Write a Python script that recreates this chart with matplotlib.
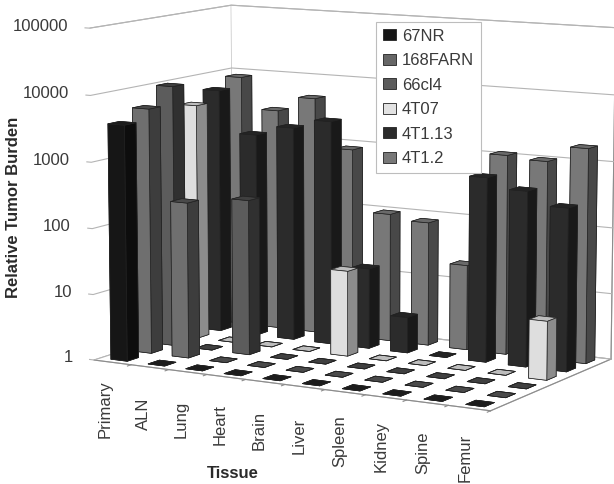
import numpy as np
import matplotlib
matplotlib.use("Agg")
import matplotlib.pyplot as plt
from matplotlib.patches import Patch
from mpl_toolkits.mplot3d import proj3d

plt.rcParams['font.family'] = ['Liberation Sans', 'DejaVu Sans']

tissues = ["Primary", "ALN", "Lung", "Heart", "Brain", "Liver", "Spleen", "Kidney", "Spine", "Femur"]
series_names = ["67NR", "168FARN", "66cl4", "4T07", "4T1.13", "4T1.2"]
v_67NR    = [3700, 1, 1, 1, 1, 1, 1, 1, 1, 1]
v_168FARN = [5400, 230, 1, 1, 1, 1, 1, 1, 1, 1]
v_66cl4   = [10000, 1, 230, 1, 1, 1, 1, 1, 1, 1]
v_4T07    = [4300, 1, 1, 1, 20, 1, 1, 1, 1, 7.5]
v_4T113   = [6200, 1400, 2000, 2800, 17, 3.5, 1, 620, 440, 280]
v_4T12    = [8500, 2800, 4800, 850, 95, 80, 20, 1100, 1000, 1750]
z_ticks = [1, 10, 100, 1000, 10000, 100000]
z_tick_labels = ["1", "10", "100", "1000", "10000", "100000"]

# bottom, top, front, back, left, right
face_colors = [
    ("#111111", "#1c1c1c", "#161616", "#111111", "#111111", "#0d0d0d"),
    ("#333333", "#4a4a4a", "#6f6f6f", "#333333", "#333333", "#3d3d3d"),
    ("#2a2a2a", "#404040", "#5c5c5c", "#2a2a2a", "#2a2a2a", "#303030"),
    ("#888888", "#bdbdbd", "#dedede", "#888888", "#888888", "#8c8c8c"),
    ("#181818", "#242424", "#2b2b2b", "#181818", "#181818", "#191919"),
    ("#444444", "#6a6a6a", "#787878", "#444444", "#444444", "#484848"),
]
legend_colors = ["#161616", "#666666", "#5c5c5c", "#e2e2e2", "#2b2b2b", "#787878"]

values = [v_67NR, v_168FARN, v_66cl4, v_4T07, v_4T113, v_4T12]

fig = plt.figure(figsize=(6.14, 4.84), dpi=100, facecolor="white")
S = 602.2
ax = fig.add_axes([43.46 / 614, -20.4 / 484, S / 614, S / 484], projection="3d", computed_zorder=False)
ax.patch.set_alpha(0)
ax.set_proj_type("persp", focal_length=0.956)
ax.view_init(elev=9.19, azim=-60.08)
ax.set_box_aspect((1.339, 0.7855, 1), zoom=1)
nx, ny = len(tissues), len(series_names)
ax.set_xlim(0, nx)
ax.set_ylim(0, ny)
ax.set_zlim(0, 5)

bw, bd = 0.44, 0.47
order = 0
for r in range(ny - 1, -1, -1):
    for c in range(nx):
        h = np.log10(values[r][c])
        order += 1
        coll = ax.bar3d(c + 0.5 - bw / 2, r + 0.5 - bd / 2, 0, bw, bd, h,
                        color=list(face_colors[r]), shade=False,
                        edgecolor="#222222", linewidth=0.5, zsort="max")
        coll.set_zorder(order + 10)

for axis in (ax.xaxis, ax.yaxis, ax.zaxis):
    axis.set_pane_color((1, 1, 1, 1))
    axis.pane.set_edgecolor("#b4b4b4")
    axis.pane.set_linewidth(0.8)
    axis.line.set_color("#8c8c8c")
    axis.line.set_linewidth(0.8)
    axis._axinfo["tick"]["inward_factor"] = 0
    axis._axinfo["tick"]["outward_factor"] = 0
ax.grid(False)

ax.set_xticks(np.arange(nx) + 0.78)
ax.set_xticklabels(tissues, rotation=90, va="center", ha="center", fontsize=12, color="#3a3a3a")
ax.set_yticks([])
ax.set_zticks([])
ax.tick_params(axis="x", pad=19)

M = ax.get_proj()
for z, lab in zip(np.log10(z_ticks), z_tick_labels):
    px, py, _ = proj3d.proj_transform(-0.58, 0, z, M)
    ax.text2D(px, py, lab, transform=ax.transData, ha="right", va="center",
              fontsize=12, color="#3a3a3a", zorder=0)
    ax.plot([-0.12, 0, 0, nx], [0, 0, ny, ny], [z, z, z, z], color="#b4b4b4", lw=0.8, zorder=1)
for k in range(1, nx + 1):
    ax.plot([k, k], [0, -0.15], [0, 0], color="#8c8c8c", lw=0.8, zorder=1)

fig.text(14 / 614, 1 - 207 / 484, "Relative Tumor Burden", rotation=90, ha="center", va="center",
         fontsize=12, fontweight="bold", color="#2a2a2a")
fig.text(233 / 614, 1 - 473 / 484, "Tissue", ha="center", va="center",
         fontsize=12, fontweight="bold", color="#2a2a2a")

handles = [Patch(facecolor=c, edgecolor="#222222", linewidth=0.6) for c in legend_colors]
leg = fig.legend(handles, series_names, loc="upper left",
                 bbox_to_anchor=(376 / 614, 1 - 22 / 484), bbox_transform=fig.transFigure,
                 fontsize=12, frameon=True, fancybox=False, edgecolor="#bdbdbd", framealpha=1,
                 handlelength=0.8, handleheight=0.6, handletextpad=0.35, labelspacing=0.57,
                 borderpad=0.4, borderaxespad=0, labelcolor="#3a3a3a")
leg.get_frame().set_linewidth(0.8)

fig.savefig("out.png", dpi=100)
